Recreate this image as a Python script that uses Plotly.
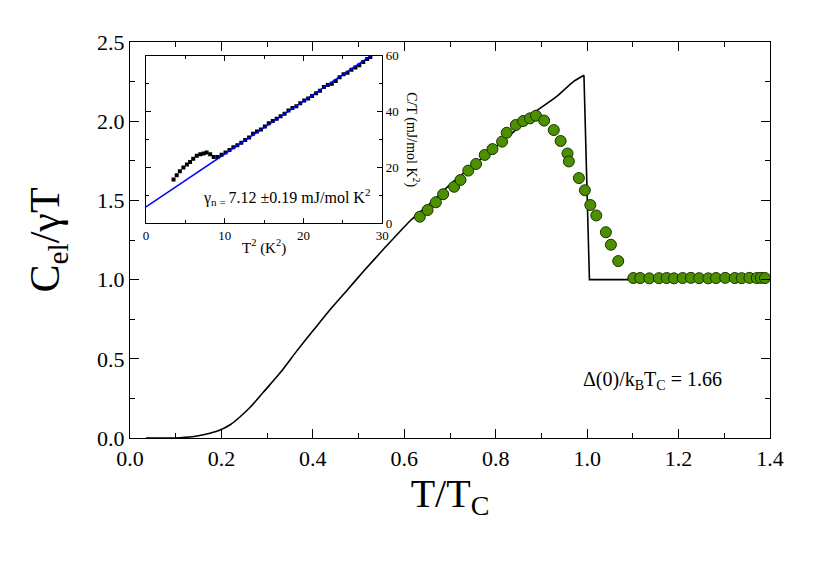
import plotly.graph_objects as go

# BCS-like model curve C_el/gamma T vs T/Tc
model_t = [0.035, 0.08, 0.109, 0.13, 0.15, 0.175, 0.197, 0.22, 0.241, 0.265, 0.292, 0.328,
           0.365, 0.401, 0.4375, 0.474, 0.51, 0.554, 0.6125, 0.66, 0.7, 0.75, 0.8, 0.85,
           0.882, 0.933, 0.97, 0.993, 1.005, 1.1, 1.4]
model_c = [0.0, 0.0, 0.002, 0.006, 0.014, 0.03, 0.05, 0.085, 0.134, 0.2, 0.29, 0.41,
           0.55, 0.68, 0.81, 0.93, 1.05, 1.19, 1.37, 1.49, 1.6, 1.72, 1.84, 1.96,
           2.05, 2.155, 2.25, 2.29, 1.0, 1.0, 1.0]

# measured points
meas_t = [0.634, 0.651, 0.669, 0.685, 0.709, 0.723, 0.740, 0.757, 0.776, 0.793, 0.814,
          0.824, 0.844, 0.860, 0.875, 0.888, 0.906, 0.927, 0.942, 0.957, 0.960, 0.982,
          0.995, 1.007, 1.020, 1.041, 1.052, 1.068, 1.101, 1.116, 1.136, 1.157, 1.174,
          1.190, 1.209, 1.227, 1.245, 1.265, 1.282, 1.302, 1.323, 1.338, 1.355, 1.371,
          1.380, 1.389]
meas_c = [1.397, 1.439, 1.488, 1.539, 1.586, 1.629, 1.688, 1.730, 1.787, 1.824, 1.871,
          1.927, 1.976, 2.001, 2.018, 2.035, 2.004, 1.944, 1.875, 1.796, 1.746, 1.641,
          1.564, 1.471, 1.405, 1.299, 1.220, 1.117, 1.010, 1.010, 1.008, 1.009, 1.010,
          1.008, 1.010, 1.011, 1.009, 1.008, 1.010, 1.011, 1.010, 1.009, 1.011, 1.010,
          1.011, 1.010]

# inset: C/T vs T^2
ins_t2 = [3.5, 3.9, 4.3, 4.75, 5.2, 5.6, 6.0, 6.45, 6.9, 7.3, 7.7, 8.15, 8.6, 9.1, 9.6,
          10.1, 10.6, 11.1, 11.6, 12.1, 12.6, 13.1, 13.6, 14.1, 14.6, 15.1, 15.6, 16.1,
          16.6, 17.1, 17.6, 18.1, 18.6, 19.1, 19.6, 20.1, 20.6, 21.1, 21.6, 22.1, 22.6,
          23.1, 23.6, 24.1, 24.6, 25.1, 25.6, 26.1, 26.6, 27.1, 27.6, 28.1, 28.5]
ins_ct = [15.6, 17.1, 18.6, 19.9, 21.0, 21.9, 23.1, 24.1, 24.7, 24.9, 25.3, 24.7, 23.7,
          23.7, 24.5, 25.3, 26.2, 27.2, 27.9, 28.8, 29.8, 30.7, 32.0, 32.8, 33.6, 34.6,
          35.8, 36.6, 37.4, 38.3, 39.2, 40.4, 41.3, 41.9, 43.0, 44.0, 44.7, 45.6, 46.6,
          47.5, 48.8, 49.5, 50.0, 51.0, 52.3, 53.4, 53.9, 55.0, 55.8, 56.6, 57.8, 58.9, 59.6]
fit_t2 = [0, 28.6]
fit_ct = [5.75, 60.1]

FONT = "Liberation Serif, Times New Roman, serif"


def f(size):
    return dict(family=FONT, size=size, color="black")


# smooth rise up to the peak, then the straight jump and normal-state line
peak = model_t.index(0.993)

fig = go.Figure()
fig.add_trace(go.Scatter(x=model_t[:peak + 1], y=model_c[:peak + 1], mode="lines",
                         line=dict(color="black", width=1.6, shape="spline", smoothing=0.6),
                         showlegend=False))
fig.add_trace(go.Scatter(x=model_t[peak:], y=model_c[peak:], mode="lines",
                         line=dict(color="black", width=1.6), showlegend=False))
fig.add_trace(go.Scatter(x=meas_t, y=meas_c, mode="markers",
                         marker=dict(size=11, color="#4c9000",
                                     line=dict(color="#1a3300", width=1)),
                         showlegend=False))
fig.add_trace(go.Scatter(x=ins_t2, y=ins_ct, mode="markers", xaxis="x2", yaxis="y2",
                         marker=dict(symbol="square", size=4, color="black"),
                         showlegend=False))
fig.add_trace(go.Scatter(x=fit_t2, y=fit_ct, mode="lines", xaxis="x2", yaxis="y2",
                         line=dict(color="#0000ff", width=1.5), showlegend=False))

ax_common = dict(showgrid=False, zeroline=False, showline=True, linecolor="black",
                 linewidth=1.2, ticks="inside", mirror="allticks", tickcolor="black")

fig.update_layout(
    width=830, height=563,
    margin=dict(l=122, r=68, t=34, b=133),
    paper_bgcolor="white", plot_bgcolor="white",
    font=f(14),
    xaxis=dict(range=[0, 1.4], tickvals=[0, 0.2, 0.4, 0.6, 0.8, 1.0, 1.2, 1.4],
               ticktext=["0.0", "0.2", "0.4", "0.6", "0.8", "1.0", "1.2", "1.4"],
               ticklen=9, tickfont=f(22),
               minor=dict(ticks="inside", dtick=0.1, ticklen=5, tickcolor="black"),
               title=dict(text="T/T<sub>C</sub>", font=f(40), standoff=4),
               **ax_common),
    yaxis=dict(range=[0, 2.5], tickvals=[0, 0.5, 1.0, 1.5, 2.0, 2.5],
               ticktext=["0.0", "0.5", "1.0", "1.5", "2.0", "2.5"],
               ticklen=9, tickfont=f(22),
               minor=dict(ticks="inside", dtick=0.25, ticklen=5, tickcolor="black"),
               title=dict(text="C<sub>el</sub>/γT", font=f(42), standoff=24),
               **ax_common),
    xaxis2=dict(domain=[0.025, 0.394], anchor="y2", range=[0, 30],
                tickvals=[0, 10, 20, 30], ticklen=5, tickfont=f(13),
                minor=dict(ticks="inside", dtick=5, ticklen=3, tickcolor="black"),
                title=dict(text="T<sup>2</sup> (K<sup>2</sup>)", font=f(15), standoff=0),
                **ax_common),
    yaxis2=dict(domain=[0.543, 0.965], anchor="x2", range=[0, 60], side="right",
                tickvals=[0, 20, 40, 60], ticklen=5, tickfont=f(13),
                minor=dict(ticks="inside", dtick=10, ticklen=3, tickcolor="black"),
                **ax_common),
    shapes=[dict(type="rect", xref="x2 domain", yref="y2 domain", x0=0, x1=1, y0=0, y1=1,
                 fillcolor="white", line=dict(width=0), layer="below")],
    annotations=[
        dict(text="Δ(0)/k<sub>B</sub>T<sub>C</sub> = 1.66", x=1.142, y=0.36, xref="x", yref="y",
             showarrow=False, font=f(20)),
        dict(text="γ<sub>n = </sub>7.12 ±0.19 mJ/mol K<sup>2</sup>", x=17.9, y=9.3,
             xref="x2", yref="y2", showarrow=False, font=f(16)),
        dict(text="C/T (mJ/mol K<sup>2</sup>)", x=1.0, y=0.5, xref="x2 domain",
             yref="y2 domain", xanchor="center", yanchor="middle", xshift=30,
             textangle=90, showarrow=False, font=f(14)),
    ],
)

fig.write_html("out.html")
